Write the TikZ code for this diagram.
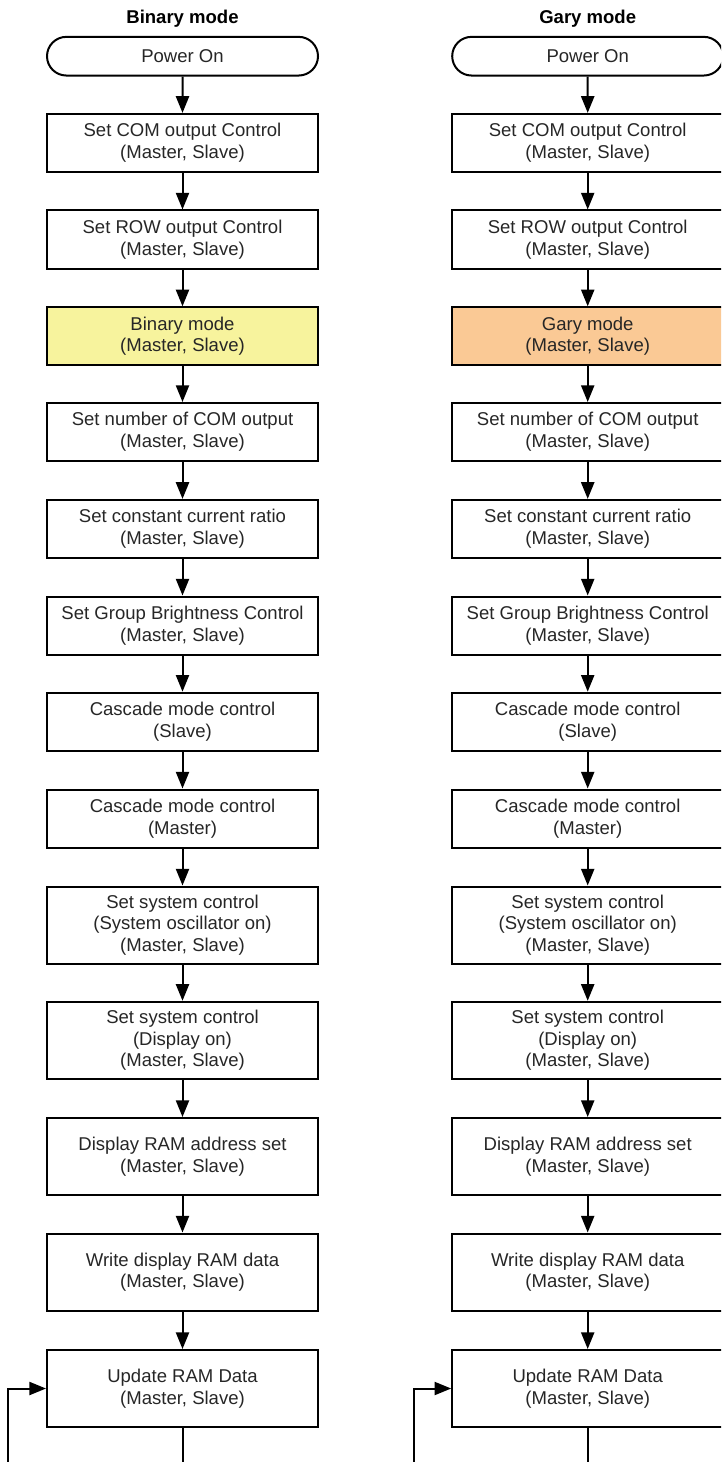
\documentclass[tikz,border=0pt]{standalone}
\usepackage{fontspec}
\setmainfont{Liberation Sans}
\usetikzlibrary{arrows.meta, shapes.misc}
\definecolor{binfill}{HTML}{F7F39D}
\definecolor{garyfill}{HTML}{FAC995}

\begin{document}
\begin{tikzpicture}[
  x=0.75pt, y=-0.75pt,
  box/.style={draw, line width=1.5pt, minimum width=203.25pt, minimum height=43.5pt,
              inner sep=0pt, align=center, text=black!85},
  tallbox/.style={box, minimum height=57.75pt},
  startbox/.style={draw, rounded rectangle, line width=1.5pt, minimum width=203.25pt,
                   minimum height=29pt, inner sep=0pt, text=black!85},
  title/.style={font=\fontsize{13.9pt}{16.2pt}\selectfont\bfseries},
  flow/.style={-{Triangle[length=12.5pt, width=9.8pt]}, line width=1.5pt},
  every node/.style={font=\fontsize{13.9pt}{16.2pt}\selectfont}
]
  \path[use as bounding box, clip] (0,0) rectangle (721,1462);

  % binary mode
  \node[title]    (b-title)  at (182.5,18.3)   {Binary mode};
  \node[startbox] (b-power)  at (182.5,56.2)   {Power On};
  \node[box]      (b-com)    at (182.5,142.9)  {Set COM output Control\\(Master, Slave)};
  \node[box]      (b-row)    at (182.5,239.5)  {Set ROW output Control\\(Master, Slave)};
  \node[box, fill=binfill] (b-mode) at (182.5,336.3) {Binary mode\\(Master, Slave)};
  \node[box]      (b-num)    at (182.5,432)    {Set number of COM output\\(Master, Slave)};
  \node[box]      (b-ratio)  at (182.5,528.9)  {Set constant current ratio\\(Master, Slave)};
  \node[box]      (b-bright) at (182.5,625.5)  {Set Group Brightness Control\\(Master, Slave)};
  \node[box]      (b-slave)  at (182.5,721.7)  {Cascade mode control\\(Slave)};
  \node[box]      (b-master) at (182.5,818.5)  {Cascade mode control\\(Master)};
  \node[tallbox]  (b-osc)    at (182.5,925)    {Set system control\\(System oscillator on)\\(Master, Slave)};
  \node[tallbox]  (b-disp)   at (182.5,1040.3) {Set system control\\(Display on)\\(Master, Slave)};
  \node[tallbox]  (b-addr)   at (182.5,1156.5) {Display RAM address set\\(Master, Slave)};
  \node[tallbox]  (b-write)  at (182.5,1272)   {Write display RAM data\\(Master, Slave)};
  \node[tallbox]  (b-update) at (182.5,1388.5) {Update RAM Data\\(Master, Slave)};
  \coordinate (b-end)  at (182.5,1470);
  \coordinate (b-loop) at (8.3,1470);

  \draw[flow] (b-power)  -- (b-com);
  \draw[flow] (b-com)    -- (b-row);
  \draw[flow] (b-row)    -- (b-mode);
  \draw[flow] (b-mode)   -- (b-num);
  \draw[flow] (b-num)    -- (b-ratio);
  \draw[flow] (b-ratio)  -- (b-bright);
  \draw[flow] (b-bright) -- (b-slave);
  \draw[flow] (b-slave)  -- (b-master);
  \draw[flow] (b-master) -- (b-osc);
  \draw[flow] (b-osc)    -- (b-disp);
  \draw[flow] (b-disp)   -- (b-addr);
  \draw[flow] (b-addr)   -- (b-write);
  \draw[flow] (b-write)  -- (b-update);
  \draw[line width=1.5pt] (b-update) -- (b-end);
  \draw[flow] (b-loop) |- (b-update);

  % gary mode
  \node[title]    (g-title)  at (587.7,18.3)   {Gary mode};
  \node[startbox] (g-power)  at (587.7,56.2)   {Power On};
  \node[box]      (g-com)    at (587.7,142.9)  {Set COM output Control\\(Master, Slave)};
  \node[box]      (g-row)    at (587.7,239.5)  {Set ROW output Control\\(Master, Slave)};
  \node[box, fill=garyfill] (g-mode) at (587.7,336.3) {Gary mode\\(Master, Slave)};
  \node[box]      (g-num)    at (587.7,432)    {Set number of COM output\\(Master, Slave)};
  \node[box]      (g-ratio)  at (587.7,528.9)  {Set constant current ratio\\(Master, Slave)};
  \node[box]      (g-bright) at (587.7,625.5)  {Set Group Brightness Control\\(Master, Slave)};
  \node[box]      (g-slave)  at (587.7,721.7)  {Cascade mode control\\(Slave)};
  \node[box]      (g-master) at (587.7,818.5)  {Cascade mode control\\(Master)};
  \node[tallbox]  (g-osc)    at (587.7,925)    {Set system control\\(System oscillator on)\\(Master, Slave)};
  \node[tallbox]  (g-disp)   at (587.7,1040.3) {Set system control\\(Display on)\\(Master, Slave)};
  \node[tallbox]  (g-addr)   at (587.7,1156.5) {Display RAM address set\\(Master, Slave)};
  \node[tallbox]  (g-write)  at (587.7,1272)   {Write display RAM data\\(Master, Slave)};
  \node[tallbox]  (g-update) at (587.7,1388.5) {Update RAM Data\\(Master, Slave)};
  \coordinate (g-end)  at (587.7,1470);
  \coordinate (g-loop) at (414,1470);

  \draw[flow] (g-power)  -- (g-com);
  \draw[flow] (g-com)    -- (g-row);
  \draw[flow] (g-row)    -- (g-mode);
  \draw[flow] (g-mode)   -- (g-num);
  \draw[flow] (g-num)    -- (g-ratio);
  \draw[flow] (g-ratio)  -- (g-bright);
  \draw[flow] (g-bright) -- (g-slave);
  \draw[flow] (g-slave)  -- (g-master);
  \draw[flow] (g-master) -- (g-osc);
  \draw[flow] (g-osc)    -- (g-disp);
  \draw[flow] (g-disp)   -- (g-addr);
  \draw[flow] (g-addr)   -- (g-write);
  \draw[flow] (g-write)  -- (g-update);
  \draw[line width=1.5pt] (g-update) -- (g-end);
  \draw[flow] (g-loop) |- (g-update);
\end{tikzpicture}
\end{document}
